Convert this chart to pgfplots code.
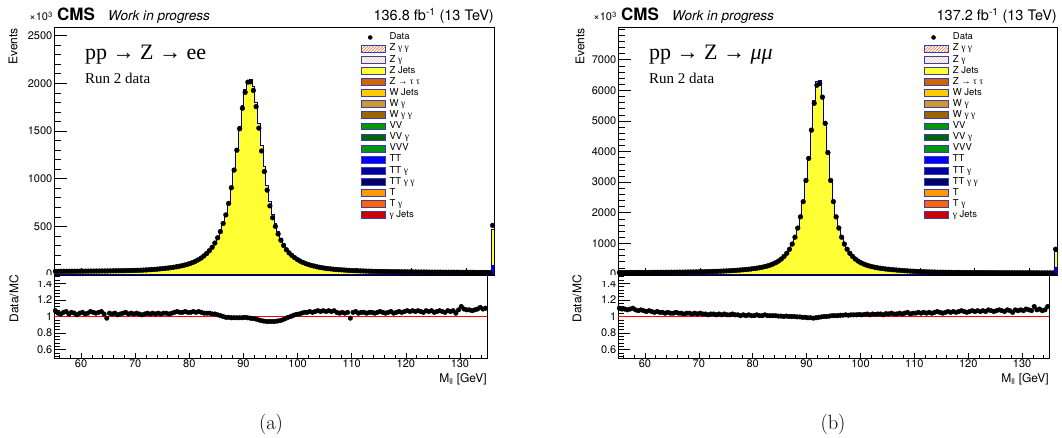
\documentclass[border=0pt]{standalone}
\usepackage{fontspec}
\usepackage{pgfplots}
\usepackage{pgfplotstable}
\pgfplotsset{compat=1.18}
\usetikzlibrary{patterns}
\newfontfamily\hel{TeX Gyre Heros}
\newfontfamily\tms{Liberation Serif}
\definecolor{zjets}{RGB}{255,255,51}
\definecolor{histline}{RGB}{0,0,153}
\definecolor{legline}{RGB}{60,60,170}
\definecolor{cZtt}{RGB}{204,102,0}
\definecolor{cWj}{RGB}{255,204,0}
\definecolor{cWg}{RGB}{204,153,51}
\definecolor{cWgg}{RGB}{153,102,0}
\definecolor{cVV}{RGB}{0,153,0}
\definecolor{cVVg}{RGB}{0,102,0}
\definecolor{cVVV}{RGB}{0,150,20}
\definecolor{cTT}{RGB}{0,0,255}
\definecolor{cTTg}{RGB}{0,0,153}
\definecolor{cTTgg}{RGB}{0,0,102}
\definecolor{cT}{RGB}{255,153,0}
\definecolor{cTg}{RGB}{255,102,0}
\definecolor{cgj}{RGB}{204,0,0}
\definecolor{hatchA}{RGB}{255,102,51}
\definecolor{hatchB}{RGB}{255,190,140}

% Z -> ee : bin centre, data, MC, data/MC
\pgfplotstableread{
m data mc r
55.25 28 26.2 1.07
55.75 28 26.9 1.04
56.25 28.5 27.7 1.03
56.75 28.5 27.1 1.05
57.25 29 27.4 1.06
57.75 29 28.2 1.03
58.25 29 27.6 1.05
58.75 29.5 28.4 1.04
59.25 29.5 28.9 1.02
59.75 30 28.8 1.04
60.25 30 28.6 1.05
60.75 30.5 29.6 1.03
61.25 30.5 29.3 1.04
61.75 31 29.2 1.06
62.25 31 29.5 1.05
62.75 31.5 30.3 1.04
63.25 31.5 30.0 1.05
63.75 32 30.2 1.06
64.25 32 31.1 1.03
64.75 32.5 33.2 0.98
65.25 33 31.7 1.04
65.75 33.5 32.5 1.03
66.25 34 32.7 1.04
66.75 34.5 33.8 1.02
67.25 35 34.0 1.03
67.75 35.5 34.1 1.04
68.25 36 34.3 1.05
68.75 37 35.9 1.03
69.25 37.5 36.1 1.04
69.75 38 36.9 1.03
70.25 39 37.5 1.04
70.75 40 38.8 1.03
71.25 41.5 40.7 1.02
71.75 43 41.7 1.03
72.25 45 43.3 1.04
72.75 47 45.6 1.03
73.25 49 47.1 1.04
73.75 51 49.5 1.03
74.25 54 51.9 1.04
74.75 57 55.3 1.03
75.25 60 57.7 1.04
75.75 63 60.6 1.04
76.25 67 65.0 1.03
76.75 71 68.3 1.04
77.25 76 72.4 1.05
77.75 81 76.4 1.06
78.25 87 82.9 1.05
78.75 94 89.5 1.05
79.25 102 96.2 1.06
79.75 111 105.7 1.05
80.25 122 116.2 1.05
80.75 135 127.4 1.06
81.25 150 142.9 1.05
81.75 168 158.5 1.06
82.25 190 181.0 1.05
82.75 215 206.7 1.04
83.25 245 235.6 1.04
83.75 280 269.2 1.04
84.25 325 315.5 1.03
84.75 380 368.9 1.03
85.25 445 436.3 1.02
85.75 530 524.8 1.01
86.25 620 620 1.00
86.75 740 747.5 0.99
87.25 905 914.1 0.99
87.75 1090 1106.6 0.985
88.25 1298 1317.8 0.985
88.75 1523 1546.2 0.985
89.25 1738 1764.5 0.985
89.75 1905 1934.0 0.985
90.25 2012 2032.3 0.99
90.75 2015 2045.7 0.985
91.25 1925 1964.3 0.98
91.75 1755 1800.0 0.975
92.25 1530 1577.3 0.97
92.75 1290 1343.8 0.96
93.25 1075 1131.6 0.95
93.75 880 931.2 0.945
94.25 715 760.6 0.94
94.75 590 627.7 0.94
95.25 500 531.9 0.94
95.75 420 446.8 0.94
96.25 355 375.7 0.945
96.75 300 315.8 0.95
97.25 255 265.6 0.96
97.75 222 227.7 0.975
98.25 195 197.0 0.99
98.75 172 172 1.00
99.25 152 149.8 1.015
99.75 136 132.7 1.025
100.25 122 118.4 1.03
100.75 110 105.8 1.04
101.25 100 95.2 1.05
101.75 91 86.7 1.05
102.25 84 79.2 1.06
102.75 77 73.3 1.05
103.25 71 67.0 1.06
103.75 66 61.7 1.07
104.25 61 57.5 1.06
104.75 57 53.3 1.07
105.25 54 50.9 1.06
105.75 51 47.7 1.07
106.25 48 45.3 1.06
106.75 46 43.0 1.07
107.25 44 41.9 1.05
107.75 42 40.4 1.04
108.25 40 38.1 1.05
108.75 38 36.5 1.04
109.25 36 34.3 1.05
109.75 35 35.7 0.98
110.25 34 32.4 1.05
110.75 33 31.1 1.06
111.25 32 30.8 1.04
111.75 31 29.5 1.05
112.25 30 28.6 1.05
112.75 29 27.9 1.04
113.25 28 26.7 1.05
113.75 28 26.7 1.05
114.25 27 26.0 1.04
114.75 27 25.7 1.05
115.25 26 24.5 1.06
115.75 26 24.8 1.05
116.25 25 24.0 1.04
116.75 25 23.8 1.05
117.25 24 22.6 1.06
117.75 24 23.1 1.04
118.25 23 21.9 1.05
118.75 23 21.7 1.06
119.25 23 21.9 1.05
119.75 22 20.8 1.06
120.25 22 20.6 1.07
120.75 22 20.8 1.06
121.25 21 19.6 1.07
121.75 21 19.8 1.06
122.25 21 19.6 1.07
122.75 21 19.8 1.06
123.25 20 19.0 1.05
123.75 20 18.7 1.07
124.25 20 18.9 1.06
124.75 20 18.7 1.07
125.25 20 19.0 1.05
125.75 19 17.9 1.06
126.25 19 17.8 1.07
126.75 19 17.9 1.06
127.25 19 18.1 1.05
127.75 19 17.8 1.07
128.25 19 17.9 1.06
128.75 18 16.8 1.07
129.25 18 17.3 1.04
129.75 18 16.7 1.08
130.25 18 16.1 1.12
130.75 18 16.5 1.09
131.25 18 16.7 1.08
131.75 17 15.7 1.08
132.25 17 15.9 1.07
132.75 17 15.7 1.08
133.25 17 15.6 1.09
133.75 17 15.3 1.11
134.25 17 15.6 1.09
134.75 510 463.6 1.10
135.25 nan 463.6 nan
}\tabee

% Z -> mumu : bin centre, data, MC, data/MC
\pgfplotstableread{
m data mc r
55.25 48.5 44.1 1.10
55.75 49 45.0 1.09
56.25 49 45.0 1.09
56.75 49.5 45.8 1.08
57.25 50 45.9 1.09
57.75 50 45.5 1.10
58.25 50.5 46.8 1.08
58.75 51 47.7 1.07
59.25 51.5 47.7 1.08
59.75 52 48.6 1.07
60.25 52.5 49.5 1.06
60.75 53 49.5 1.07
61.25 53.5 50.5 1.06
61.75 54 51.4 1.05
62.25 54.5 51.4 1.06
62.75 55 52.4 1.05
63.25 55.5 52.9 1.05
63.75 56 53.8 1.04
64.25 57 54.3 1.05
64.75 58 55.8 1.04
65.25 59 56.7 1.04
65.75 60 57.1 1.05
66.25 61 58.7 1.04
66.75 62 59.6 1.04
67.25 63 61.2 1.03
67.75 65 62.5 1.04
68.25 66 63.5 1.04
68.75 67 65.0 1.03
69.25 69 66.3 1.04
69.75 71 68.9 1.03
70.25 73 70.2 1.04
70.75 75 72.8 1.03
71.25 77 74.8 1.03
71.75 80 78.4 1.02
72.25 83 80.6 1.03
72.75 86 83.5 1.03
73.25 89 87.3 1.02
73.75 93 90.3 1.03
74.25 97 95.1 1.02
74.75 101 98.1 1.03
75.25 106 103.9 1.02
75.75 111 108.8 1.02
76.25 117 113.6 1.03
76.75 123 120.6 1.02
77.25 130 127.5 1.02
77.75 138 136.6 1.01
78.25 146 143.1 1.02
78.75 155 153.5 1.01
79.25 165 161.8 1.02
79.75 177 175.2 1.01
80.25 190 188.1 1.01
80.75 204 200.0 1.02
81.25 221 218.8 1.01
81.75 242 239.6 1.01
82.25 265 259.8 1.02
82.75 293 290.1 1.01
83.25 328 324.8 1.01
83.75 370 366.3 1.01
84.25 423 418.8 1.01
84.75 489 486.6 1.005
85.25 573 570.1 1.005
85.75 677 677 1.00
86.25 808 804.0 1.005
86.75 979 979 1.00
87.25 1203 1203 1.00
87.75 1501 1501 1.00
88.25 1867 1876.4 0.995
88.75 2364 2375.9 0.995
89.25 3057 3087.9 0.99
89.75 3777 3815.2 0.99
90.25 4700 4771.6 0.985
90.75 5577 5662.0 0.985
91.25 6167 6292.9 0.98
91.75 6223 6317.8 0.985
92.25 5777 5835.4 0.99
92.75 4923 4947.7 0.995
93.25 3967 3967 1.00
93.75 3057 3057 1.00
94.25 2364 2352.2 1.005
94.75 1867 1848.5 1.01
95.25 1501 1486.1 1.01
95.75 1203 1191.1 1.01
96.25 979 964.5 1.015
96.75 808 796.1 1.015
97.25 677 663.7 1.02
97.75 573 564.5 1.015
98.25 489 479.4 1.02
98.75 423 414.7 1.02
99.25 370 362.7 1.02
99.75 328 320.0 1.025
100.25 293 287.3 1.02
100.75 265 258.5 1.025
101.25 242 235.0 1.03
101.75 221 216.7 1.02
102.25 204 198.1 1.03
102.75 190 185.4 1.025
103.25 177 171.8 1.03
103.75 165 160.2 1.03
104.25 155 152.0 1.02
104.75 146 141.1 1.035
105.25 138 134.0 1.03
105.75 130 125.0 1.04
106.25 123 119.4 1.03
106.75 115 111.7 1.03
107.25 108 103.8 1.04
107.75 102 99.0 1.03
108.25 96 92.3 1.04
108.75 91 86.7 1.05
109.25 86.5 84.0 1.03
109.75 82 78.8 1.04
110.25 78 75.0 1.04
110.75 75 71.4 1.05
111.25 71 68.3 1.04
111.75 68 64.8 1.05
112.25 65 62.5 1.04
112.75 63 60.0 1.05
113.25 60 57.7 1.04
113.75 58.5 55.7 1.05
114.25 57 53.8 1.06
114.75 56 53.3 1.05
115.25 55 52.9 1.04
115.75 53.5 51.0 1.05
116.25 52.5 49.5 1.06
116.75 52 49.5 1.05
117.25 51 48.1 1.06
117.75 50 47.6 1.05
118.25 49.5 46.7 1.06
118.75 48.5 45.3 1.07
119.25 47.5 44.8 1.06
119.75 47 44.8 1.05
120.25 46.5 43.9 1.06
120.75 46 43.0 1.07
121.25 46 43.4 1.06
121.75 45.5 42.5 1.07
122.25 45 42.5 1.06
122.75 44.5 41.6 1.07
123.25 44 41.5 1.06
123.75 44 40.7 1.08
124.25 43.5 40.7 1.07
124.75 43 40.6 1.06
125.25 42.5 39.7 1.07
125.75 42.5 39.4 1.08
126.25 42 39.3 1.07
126.75 41.5 39.2 1.06
127.25 41.5 38.4 1.08
127.75 41 38.3 1.07
128.25 41 39.0 1.05
128.75 40.5 37.5 1.08
129.25 40 37.4 1.07
129.75 40 37.0 1.08
130.25 39.5 36.9 1.07
130.75 39 35.8 1.09
131.25 39 36.1 1.08
131.75 38.5 36.0 1.07
132.25 38 33.9 1.12
132.75 38 35.2 1.08
133.25 38 34.9 1.09
133.75 37.5 35.0 1.07
134.25 37.5 34.7 1.08
134.75 810 723.2 1.12
135.25 nan 723.2 nan
}\tabmm

\pgfplotsset{
  rootbase/.style={
    scale only axis,
    xmin=55, xmax=135,
    tick align=inside, tick pos=left,
    axis line style={black, line width=0.7pt},
    every tick/.style={black, line width=0.6pt},
    xtick={60,70,...,130},
    minor xtick={56,58,...,134},
    ticklabel style={font=\hel\fontsize{11}{13}\selectfont},
    yticklabel style={inner xsep=1.5pt},
    xticklabel style={inner ysep=2pt},
    /pgf/number format/assume math mode=true,
    /pgf/number format/1000 sep={},
    scaled y ticks=false,
  },
  mainax/.style={rootbase, height=248pt, xticklabels={},
    xtick style={/pgfplots/major tick length=7pt, /pgfplots/minor tick length=3.5pt},
    ytick style={/pgfplots/major tick length=13pt, /pgfplots/minor tick length=6.5pt},
    legend cell align=left,
    legend style={at={(rel axis cs:0.697,0.981)}, anchor=north west,
      draw=none, fill=none, inner sep=0pt, row sep=0pt, column sep=2pt,
      font=\hel\fontsize{9.5}{10}\selectfont,
      nodes={inner xsep=2pt, inner ysep=0.5pt, text height=7.4pt, text depth=2.7pt}},
  },
  ratioax/.style={rootbase, height=83pt, clip=false,
    ymin=0.5, ymax=1.5, ytick={0.6,0.8,1,1.2,1.4}, yticklabels={0.6,0.8,1,1.2,1.4},
    minor ytick={0.52,0.56,0.64,0.68,0.72,0.76,0.84,0.88,0.92,0.96,1.04,1.08,1.12,1.16,1.24,1.28,1.32,1.36,1.44,1.48},
    xtick style={/pgfplots/major tick length=5pt, /pgfplots/minor tick length=2.5pt},
    ytick style={/pgfplots/major tick length=12pt, /pgfplots/minor tick length=6pt},
  },
  legbox/.style={mark=none, legend image code/.code={\draw[draw=legline, line width=0.7pt, #1] (0pt,-3.4pt) rectangle (24pt,3.4pt);}},
}

\newcommand{\rootlegend}{%
\addlegendimage{mark=none, draw=none, legend image code/.code={\path[draw=none, fill=none] (0pt,-3.4pt) rectangle (24pt,3.4pt); \fill[black] (9pt,0pt) circle[radius=2.3pt];}}
\addlegendentry{Data}
\addlegendimage{legbox={pattern=north east lines, pattern color=hatchA}}
\addlegendentry{Z {\tms γ γ}}
\addlegendimage{legbox={pattern=north west lines, pattern color=hatchB}}
\addlegendentry{Z {\tms γ}}
\addlegendimage{legbox={fill=zjets}}
\addlegendentry{Z Jets}
\addlegendimage{legbox={fill=cZtt}}
\addlegendentry{Z {\tms → τ τ}}
\addlegendimage{legbox={fill=cWj}}
\addlegendentry{W Jets}
\addlegendimage{legbox={fill=cWg}}
\addlegendentry{W {\tms γ}}
\addlegendimage{legbox={fill=cWgg}}
\addlegendentry{W {\tms γ γ}}
\addlegendimage{legbox={fill=cVV}}
\addlegendentry{VV}
\addlegendimage{legbox={fill=cVVg}}
\addlegendentry{VV {\tms γ}}
\addlegendimage{legbox={fill=cVVV}}
\addlegendentry{VVV}
\addlegendimage{legbox={fill=cTT}}
\addlegendentry{TT}
\addlegendimage{legbox={fill=cTTg}}
\addlegendentry{TT {\tms γ}}
\addlegendimage{legbox={fill=cTTgg}}
\addlegendentry{TT {\tms γ γ}}
\addlegendimage{legbox={fill=cT}}
\addlegendentry{T}
\addlegendimage{legbox={fill=cTg}}
\addlegendentry{T {\tms γ}}
\addlegendimage{legbox={fill=cgj}}
\addlegendentry{{\tms γ} Jets}
}

\begin{document}
\begin{tikzpicture}
\path[use as bounding box] (0pt,0pt) rectangle (1062pt,438pt);

% ---------------- left: ee ----------------
\begin{axis}[mainax, at={(54pt,163pt)}, anchor=south west, width=440pt,
  ymin=-10, ymax=2590, ytick={0,500,...,2500}, minor ytick={100,200,...,2500}]
\addplot[draw=histline, line width=0.8pt, fill=zjets, const plot mark left, forget plot]
  table[x expr=\thisrow{m}-0.25, y=mc] {\tabee} \closedcycle;
\addplot[draw=histline, line width=0.8pt, fill=cTT, const plot mark left, forget plot]
  coordinates {(134.5,90) (135,90)} \closedcycle;
\addplot[only marks, mark=*, mark size=2.4pt, black, forget plot]
  table[x=m, y=data] {\tabee};
\rootlegend
\end{axis}

\begin{axis}[ratioax, at={(54pt,80pt)}, anchor=south west, width=433pt]
\fill[white] (rel axis cs:-0.1,0.93) rectangle (rel axis cs:-0.006,1.0);
\addplot[red, line width=1.4pt, forget plot] coordinates {(55,1) (135,1)};
\addplot[only marks, mark=*, mark size=2.3pt, black, forget plot]
  table[x=m, y=r] {\tabee};
\end{axis}

% ---------------- right: mumu ----------------
\begin{axis}[mainax, at={(618pt,163pt)}, anchor=south west, width=439pt,
  ymin=-32, ymax=8069, ytick={0,1000,...,7000}, minor ytick={200,400,...,8000}]
\addplot[draw=histline, line width=0.8pt, fill=zjets, const plot mark left, forget plot]
  table[x expr=\thisrow{m}-0.25, y=mc] {\tabmm} \closedcycle;
\addplot[draw=histline, line width=0.8pt, fill=cTT, const plot mark left, forget plot]
  coordinates {(134.5,230) (135,230)} \closedcycle;
\addplot[only marks, mark=*, mark size=2.4pt, black, forget plot]
  table[x=m, y=data] {\tabmm};
\rootlegend
\end{axis}

\begin{axis}[ratioax, at={(618pt,80pt)}, anchor=south west, width=431pt]
\fill[white] (rel axis cs:-0.1,0.93) rectangle (rel axis cs:-0.006,1.0);
\addplot[red, line width=1.4pt, forget plot] coordinates {(55,1) (135,1)};
\addplot[only marks, mark=*, mark size=2.3pt, black, forget plot]
  table[x=m, y=r] {\tabmm};
\end{axis}

% ---------------- texts ----------------
\foreach \xo/\lumi/\proc/\cap/\capx/\evx/\dmx/\axr/\mr in
  {0/136.8/ee/(a)/271/13/14/494/487, 564/137.2/{\textit{μμ}}/(b)/833/580/577/1057/1049}{
  \node[anchor=base east, inner sep=0pt, font=\hel\fontsize{11}{13}\selectfont] at (53pt+\xo pt,417pt) {×10\textsuperscript{3}};
  \node[anchor=base west, inner sep=0pt, font=\hel\fontsize{17}{20}\selectfont\bfseries] at (57pt+\xo pt,417pt) {CMS};
  \node[anchor=base west, inner sep=0pt, font=\hel\fontsize{13.6}{16}\selectfont\itshape] at (108pt+\xo pt,417pt) {Work in progress};
  \node[anchor=base east, inner sep=0pt, font=\hel\fontsize{14.5}{17}\selectfont] at (\axr pt,417pt) {\lumi\ fb\textsuperscript{-1} (13 TeV)};
  \node[anchor=base west, inner sep=0pt, font=\tms\fontsize{22}{26}\selectfont] at (85pt+\xo pt,378.5pt) {pp → Z → \proc};
  \node[anchor=base west, inner sep=0pt, font=\tms\fontsize{15}{18}\selectfont] at (85pt+\xo pt,354pt) {Run 2 data};
  \node[rotate=90, anchor=east, inner sep=0pt, font=\hel\fontsize{12}{14}\selectfont] at (\evx pt,410pt) {Events};
  \node[rotate=90, anchor=east, inner sep=0pt, font=\hel\fontsize{12}{14}\selectfont] at (\dmx pt,163pt) {Data/MC};
  \node[anchor=base east, inner sep=0pt, font=\hel\fontsize{12}{14}\selectfont] at (\mr pt,55pt) {M\textsubscript{ll} [GeV]};
  \node[anchor=base, inner sep=0pt, font=\fontsize{20.5}{24}\selectfont] at (\capx pt,8pt) {\cap};
}
\end{tikzpicture}
\end{document}
